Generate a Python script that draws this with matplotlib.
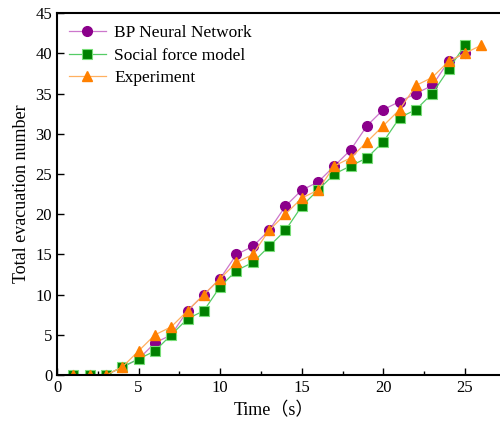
import matplotlib
matplotlib.use("Agg")
import matplotlib.pyplot as plt
from matplotlib.ticker import MultipleLocator

# evacuation counts
time_bp = list(range(1, 26))
bp_network = [0, 0, 0, 1, 2, 4, 5, 8, 10, 12, 15, 16, 18, 21, 23, 24, 26, 28,
              31, 33, 34, 35, 36, 39, 40]
time_sf = list(range(1, 26))
social_force = [0, 0, 0, 1, 2, 3, 5, 7, 8, 11, 13, 14, 16, 18, 21, 23, 25, 26,
                27, 29, 32, 33, 35, 38, 41]
time_exp = list(range(1, 27))
experiment = [0, 0, 0, 1, 3, 5, 6, 8, 10, 12, 14, 15, 18, 20, 22, 23, 26, 27,
              29, 31, 33, 36, 37, 39, 40, 41]

plt.rcParams['font.family'] = ['Liberation Serif', 'Noto Sans CJK SC']

fig = plt.figure(figsize=(5.0, 4.21), dpi=100)
ax = fig.add_axes([0.114, 0.109, 0.886, 0.86])

ax.plot(time_bp, bp_network, "-o", color="#cc77cc", lw=0.9,
        mfc="#8b008b", mec="#8b008b", ms=7, label="BP Neural Network")
ax.plot(time_sf, social_force, "-s", color="#55cc66", lw=0.9,
        mfc="#008000", mec="#77dd77", mew=0.8, ms=6.5,
        label="Social force model")
ax.plot(time_exp, experiment, "-^", color="#ffb060", lw=0.9,
        mfc="#ff8000", mec="#ff8000", ms=7.5, label="Experiment")

ax.set_xlim(0, 27.15)
ax.set_ylim(0, 45)
ax.xaxis.set_major_locator(MultipleLocator(5))
ax.xaxis.set_minor_locator(MultipleLocator(2.5))
ax.yaxis.set_major_locator(MultipleLocator(5))
ax.tick_params(which="both", direction="in", labelsize=12, width=1)
ax.tick_params(which="major", length=5)
ax.tick_params(which="minor", length=3)
for s in ax.spines.values():
    s.set_linewidth(1.5)
ax.spines["right"].set_visible(False)

ax.set_xlabel("Time（s）", fontsize=13)
ax.xaxis.set_label_coords(0.49, -0.075)
ax.set_ylabel("Total evacuation number", fontsize=13)

ax.legend(loc="upper left", frameon=False, fontsize=12.5, handlelength=2.1,
          borderaxespad=0.1, labelspacing=0.35, handletextpad=0.5,
          borderpad=0.6)

fig.savefig("out.png")
